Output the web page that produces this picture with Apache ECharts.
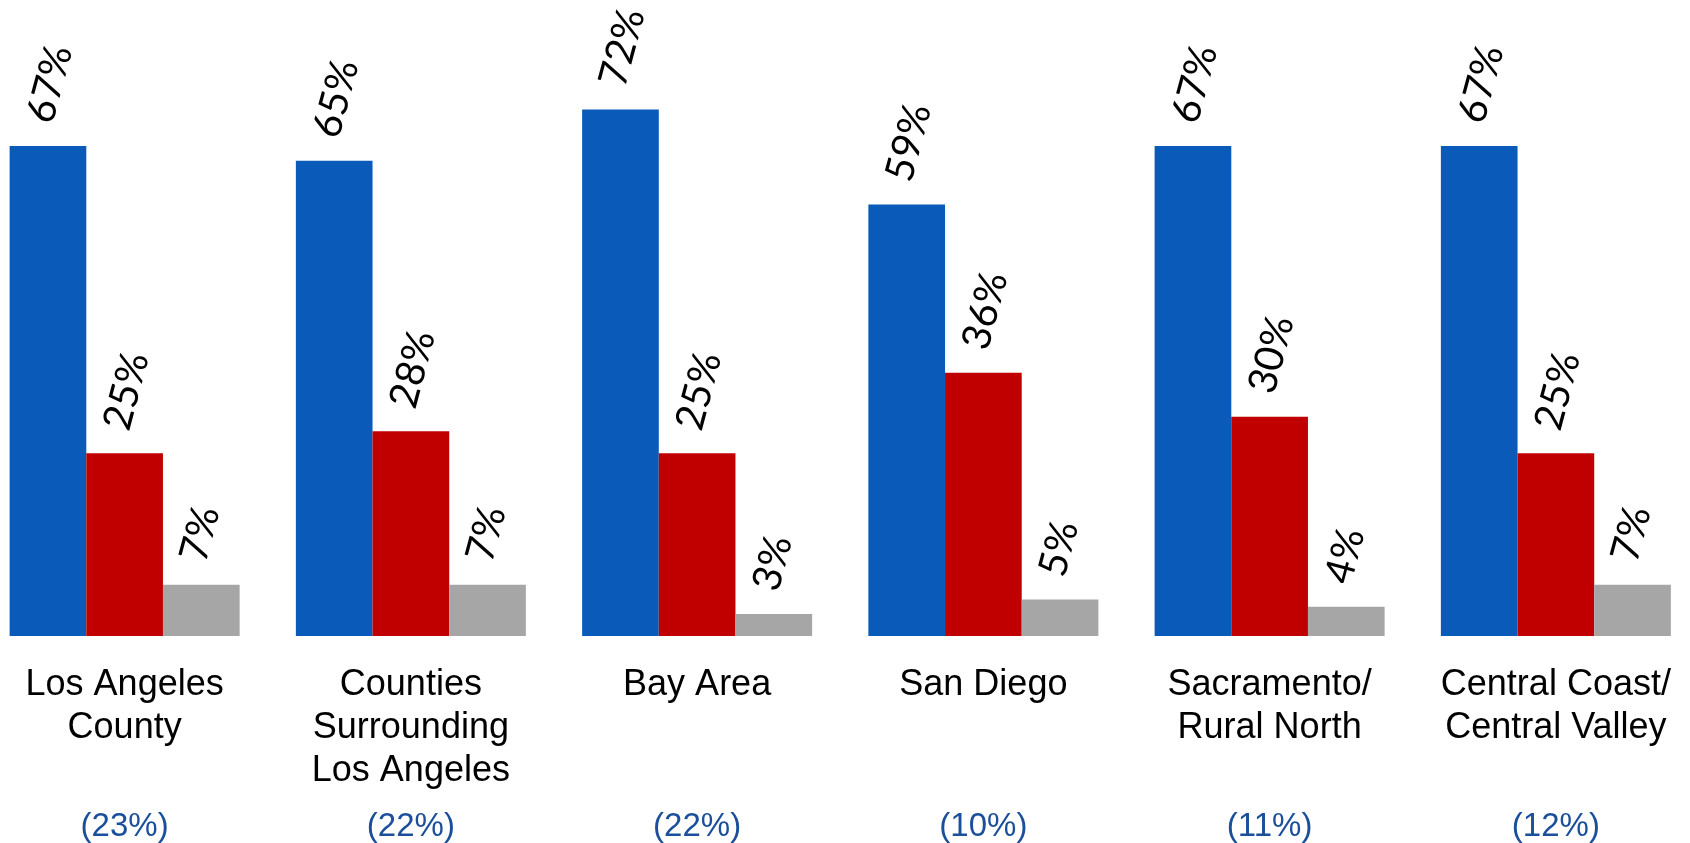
<!DOCTYPE html>
<html>
<head>
<meta charset="utf-8">
<script src="https://cdn.jsdelivr.net/npm/echarts@6/dist/echarts.min.js"></script>
<style>
html,body{margin:0;padding:0;background:#fff;}
#chart{width:1690px;height:843px;}
</style>
</head>
<body>
<div id="chart"></div>
<script>
const categories = ['Los Angeles\nCounty', 'Counties\nSurrounding\nLos Angeles', 'Bay Area', 'San Diego', 'Sacramento/\nRural North', 'Central Coast/\nCentral Valley'];
const shares = ['(23%)', '(22%)', '(22%)', '(10%)', '(11%)', '(12%)'];
const seriesA = [67, 65, 72, 59, 67, 67];
const seriesB = [25, 28, 25, 36, 30, 25];
const seriesC = [7, 7, 3, 5, 4, 7];
const colors = ['#095AB9', '#C00000', '#A6A6A6'];

const chart = echarts.init(document.getElementById('chart'));
const labelStyle = {
  show: true,
  position: 'top',
  distance: 24,
  rotate: 75,
  align: 'left',
  verticalAlign: 'middle',
  offset: [-2, -8],
  fontFamily: 'Lato',
  fontSize: 40,
  color: '#000',
  formatter: p => p.value + '%'
};
function mk(data, color) {
  return {
    type: 'bar',
    data: data,
    barGap: '0%',
    barCategoryGap: '19.65%',
    itemStyle: { color: color },
    label: labelStyle,
    emphasis: { disabled: true },
    animation: false
  };
}
chart.setOption({
  animation: false,
  grid: { left: -18.5, right: -9, top: 51, bottom: 207, containLabel: false, outerBoundsMode: 'none' },
  xAxis: [
    {
      type: 'category',
      data: categories,
      axisLine: { show: false },
      axisTick: { show: false },
      axisLabel: {
        interval: 0,
        margin: 28,
        fontFamily: 'Liberation Sans, Arial',
        fontSize: 36,
        lineHeight: 43,
        color: '#000'
      }
    },
    {
      type: 'category',
      position: 'bottom',
      offset: 163,
      data: shares,
      axisLine: { show: false },
      axisTick: { show: false },
      axisLabel: {
        interval: 0,
        margin: 8,
        fontFamily: 'Liberation Sans, Arial',
        fontSize: 33,
        lineHeight: 40,
        color: '#1B4F9B'
      }
    }
  ],
  yAxis: { type: 'value', min: 0, max: 80, show: false, splitLine: { show: false } },
  series: [mk(seriesA, colors[0]), mk(seriesB, colors[1]), mk(seriesC, colors[2])]
});
</script>
</body>
</html>
